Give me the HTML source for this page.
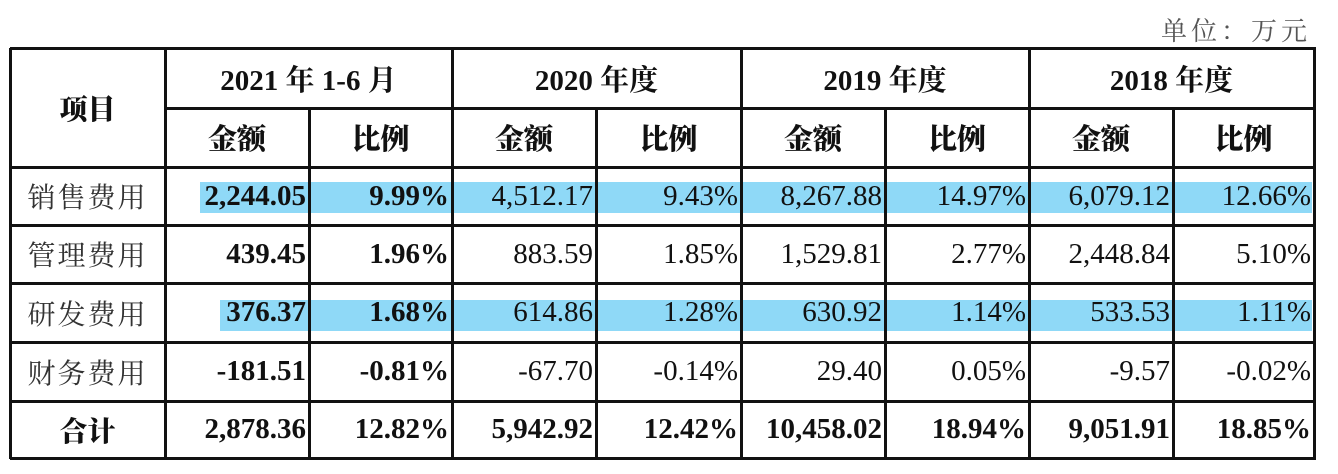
<!DOCTYPE html>
<html><head><meta charset="utf-8">
<style>
body{margin:0;width:1338px;height:474px;background:#fff;position:relative;overflow:hidden;font-family:"Liberation Serif","Noto Serif CJK SC",serif;color:#111;}
.c{position:absolute;display:flex;align-items:center;box-sizing:border-box;font-size:28px;}
.r{justify-content:flex-end;padding-right:3px;}
.m{justify-content:center;}
.b{font-weight:bold;}
.hl{position:absolute;background:#8fd9f7;}
.ln{position:absolute;background:#111;}
</style></head><body>
<div style="position:absolute;left:1161px;top:11px;font-size:26px;color:#555;font-family:'Noto Serif CJK SC',serif;letter-spacing:4px;">单位：万元</div>
<div id="t"></div>
<script>
const cols=[10,165,309,452,596,741,885,1029,1173,1314];
const rows=[48,108,167,225,283,342,401,458];
const labels=["销售费用","管理费用","研发费用","财务费用","合计"];
const periods=["2021 年 1-6 月","2020 年度","2019 年度","2018 年度"];
const values=[
["2,244.05","9.99%","4,512.17","9.43%","8,267.88","14.97%","6,079.12","12.66%"],
["439.45","1.96%","883.59","1.85%","1,529.81","2.77%","2,448.84","5.10%"],
["376.37","1.68%","614.86","1.28%","630.92","1.14%","533.53","1.11%"],
["-181.51","-0.81%","-67.70","-0.14%","29.40","0.05%","-9.57","-0.02%"],
["2,878.36","12.82%","5,942.92","12.42%","10,458.02","18.94%","9,051.91","18.85%"]];
const t=document.getElementById('t');
function box(cls,x,y,w,h,txt){const d=document.createElement('div');d.className=cls;d.style.left=x+'px';d.style.top=y+'px';d.style.width=w+'px';d.style.height=h+'px';if(txt!==undefined)d.textContent=txt;t.appendChild(d);return d;}
[[0,200],[2,220]].forEach(([ri,x0])=>{
 const y=ri===0?182:300;
 for(let c=1;c<=8;c++){const x=c===1?x0:cols[c]+2;const hd=box('hl',x,y,cols[c+1]-x-(c===8?2:1),31);
 
 }
});
let h=box('c m b',cols[0],rows[0],cols[1]-cols[0],rows[2]-rows[0],'项目');h.style.fontFamily='"Noto Serif CJK SC",serif';h.style.fontWeight='900';


periods.forEach((p,i)=>{const d=box('c m b',cols[1+2*i],rows[0],cols[3+2*i]-cols[1+2*i],rows[1]-rows[0],p);d.style.fontSize='29px';


['金额','比例'].forEach((s,j)=>{const e=box('c m b',cols[1+2*i+j],rows[1],cols[2+2*i+j]-cols[1+2*i+j],rows[2]-rows[1],s);e.style.fontWeight='900';e.style.fontSize='29px';

});});
labels.forEach((l,r)=>{const y=rows[2+r],hh=rows[3+r]-y;
 const d=box('c m'+(r===4?' b':''),cols[0],y,cols[1]-cols[0],hh,l);d.style.fontFamily='"Noto Serif CJK SC",serif';if(r<4){d.style.fontWeight='normal';d.style.color='#333';d.style.letterSpacing='2px';}else{d.style.fontWeight='900';}
 
 
 values[r].forEach((v,c)=>{const e=box('c r'+((c<2||r===4)?' b':''),cols[1+c],y,cols[2+c]-cols[1+c],hh,v);e.style.fontSize='29px';
 
 });
});
function hl(x1,x2,y){const d=box('ln',x1,y-1,x2-x1+2,2.5);

}
function vl(x,y1,y2){const d=box('ln',x-1,y1,2.5,y2-y1+1);

}
rows.forEach((y,i)=>{if(i===1)hl(cols[1],cols[9],y);else hl(cols[0],cols[9],y);});
cols.forEach((x,i)=>{if(i===0||i===1||i===9||i%2===1)vl(x,rows[0],rows[7]);else vl(x,rows[1],rows[7]);});
</script>
</body></html>
